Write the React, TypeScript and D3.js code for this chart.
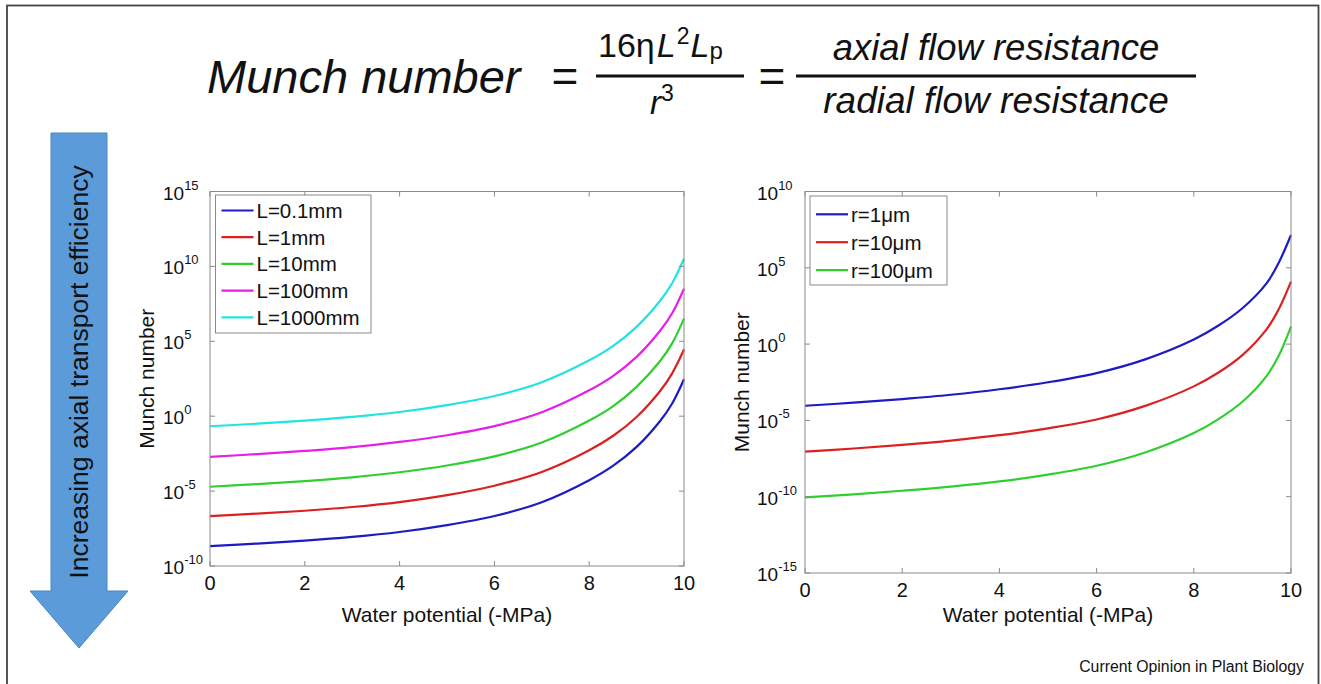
import React from 'react'
import * as d3 from 'd3'

// water potential (-MPa) sample points
const waterPotential = [0, 1, 2, 3, 4, 5, 6, 7, 8, 8.5, 9, 9.5, 9.75, 10]

// log10(Munch number)
const lengthLabels = ['L=0.1mm', 'L=1mm', 'L=10mm', 'L=100mm', 'L=1000mm']
const lengthSeries = [
  [-8.67, -8.5, -8.31, -8.06, -7.73, -7.27, -6.66, -5.74, -4.27, -3.32, -2.05, -0.3, 0.85, 2.47],
  [-6.67, -6.5, -6.31, -6.06, -5.73, -5.27, -4.64, -3.72, -2.27, -1.32, -0.05, 1.7, 2.86, 4.45],
  [-4.71, -4.53, -4.33, -4.08, -3.74, -3.29, -2.68, -1.76, -0.29, 0.66, 1.96, 3.7, 4.86, 6.51],
  [-2.71, -2.53, -2.32, -2.07, -1.72, -1.27, -0.66, 0.27, 1.73, 2.68, 3.96, 5.72, 6.87, 8.51],
  [-0.67, -0.5, -0.3, -0.05, 0.28, 0.74, 1.35, 2.27, 3.73, 4.68, 5.96, 7.72, 8.88, 10.51],
]

// log10(Munch number)
const radiusLabels = ['r=1\u03bcm', 'r=10\u03bcm', 'r=100\u03bcm']
const radiusSeries = [
  [-4.04, -3.84, -3.6, -3.32, -2.96, -2.5, -1.9, -1.0, 0.3, 1.2, 2.35, 4.0, 5.35, 7.15],
  [-7.05, -6.84, -6.6, -6.32, -5.97, -5.52, -4.94, -4.05, -2.77, -1.88, -0.72, 0.98, 2.3, 4.09],
  [-10.04, -9.85, -9.61, -9.34, -9.0, -8.55, -7.97, -7.1, -5.83, -4.93, -3.78, -2.08, -0.75, 1.14],
]

const xTicks = [0, 2, 4, 6, 8, 10]
const leftExpTicks = [15, 10, 5, 0, -5, -10]
const rightExpTicks = [10, 5, 0, -5, -10, -15]

const lengthColors = ['#1c1cc4', '#dc1f1f', '#2fcf2f', '#e61fe6', '#22e2e2']
const radiusColors = ['#1c1cc4', '#dc1f1f', '#2fcf2f']

const FONT = 'Liberation Sans, Arial, Helvetica, sans-serif'
const AXIS = '#8a8a8a'

function Panel({ left, right, top, bottom, exps, series, labels, colors, labelX, legend }) {
  const x = d3.scaleLinear().domain([0, 10]).range([left, right])
  const y = d3.scaleLog()
    .domain([Math.pow(10, exps[exps.length - 1]), Math.pow(10, exps[0])])
    .range([bottom, top])

  const line = d3.line<number>()
    .x((_, i) => x(waterPotential[i]))
    .y(v => y(Math.pow(10, v)))
    .curve(d3.curveCatmullRom.alpha(0.5))

  const tl = 5
  return (
    <g fontFamily={FONT}>
      {series.map((s, i) => (
        <path key={i} d={line(s)} fill="none" stroke={colors[i]} strokeWidth={2.2} />
      ))}
      <rect x={left} y={top} width={right - left} height={bottom - top}
        fill="none" stroke={AXIS} strokeWidth={1} />
      {xTicks.map(t => (
        <g key={t}>
          <line x1={x(t)} x2={x(t)} y1={bottom} y2={bottom - tl} stroke={AXIS} />
          <line x1={x(t)} x2={x(t)} y1={top} y2={top + tl} stroke={AXIS} />
          <text x={x(t)} y={bottom + 23.5} textAnchor="middle" fontSize={20} fill="#111">{t}</text>
        </g>
      ))}
      {exps.map(e => {
        const yy = y(Math.pow(10, e))
        return (
          <g key={e}>
            <line x1={left} x2={left + tl} y1={yy} y2={yy} stroke={AXIS} />
            <line x1={right} x2={right - tl} y1={yy} y2={yy} stroke={AXIS} />
            <text x={labelX} y={yy + 8} fontSize={19} fill="#111">
              10<tspan dy={-10} fontSize={13}>{e}</tspan>
            </text>
          </g>
        )
      })}
      <text transform={`translate(${left - 56},${(top + bottom) / 2}) rotate(-90)`}
        textAnchor="middle" fontSize={21} fill="#111">Munch number</text>
      <text x={(left + right) / 2} y={622} textAnchor="middle" fontSize={21} fill="#111">
        Water potential (-MPa)
      </text>
      <rect x={legend.x} y={legend.y} width={legend.w} height={legend.h}
        fill="#fff" stroke={AXIS} strokeWidth={1} />
      {labels.map((lab, i) => {
        const ly = legend.y + legend.first + i * legend.step
        return (
          <g key={lab}>
            <line x1={legend.x + 6} x2={legend.x + 38} y1={ly} y2={ly} stroke={colors[i]} strokeWidth={2.2} />
            <text x={legend.x + 41} y={ly + 7.5} fontSize={20.5} fill="#111">{lab}</text>
          </g>
        )
      })}
    </g>
  )
}

export default function App() {
  return (
    <div style={{ position: 'absolute', left: 0, top: 0 }}>
      <svg width={1321} height={684} style={{ display: 'block', background: '#fff' }}>
        <rect x={7} y={5.5} width={1311.5} height={700} fill="none" stroke="#444" strokeWidth={1.8} />

        {/* formula */}
        <g fontFamily={FONT} fill="#111">
          <text x={207} y={93} fontSize={47} fontStyle="italic">Munch number</text>
          <text x={565} y={92} fontSize={46} textAnchor="middle">=</text>
          <text x={598} y={57} fontSize={34}>
            16η<tspan fontStyle="italic" dx={2}>L</tspan>
            <tspan fontSize={23} dy={-13} dx={1}>2</tspan>
            <tspan fontStyle="italic" dy={13} dx={1}>L</tspan>
            <tspan fontSize={24} dy={2}>p</tspan>
          </text>
          <line x1={596} x2={744} y1={76} y2={76} stroke="#111" strokeWidth={3} />
          <text x={650} y={114} fontSize={33}>
            <tspan fontStyle="italic">r</tspan>
            <tspan fontSize={23} dy={-13}>3</tspan>
          </text>
          <text x={772} y={92} fontSize={46} textAnchor="middle">=</text>
          <line x1={796} x2={1196} y1={76} y2={76} stroke="#111" strokeWidth={3} />
          <text x={996} y={60} fontSize={36.5} fontStyle="italic" textAnchor="middle">axial flow resistance</text>
          <text x={996} y={113} fontSize={37} fontStyle="italic" textAnchor="middle">radial flow resistance</text>
        </g>

        {/* arrow */}
        <path d="M51,133 L107,133 L107,591 L128,591 L79,648 L30,591 L51,591 Z"
          fill="#5b9bd9" stroke="#4a86c6" strokeWidth={1} />
        <text transform="translate(88,372) rotate(-90)" textAnchor="middle" fontSize={26.5}
          fontFamily={FONT} fill="#111">Increasing axial transport efficiency</text>

        <Panel left={210} right={684} top={191.5} bottom={566} exps={leftExpTicks}
          series={lengthSeries} labels={lengthLabels} colors={lengthColors} labelX={163}
          legend={{ x: 215.5, y: 195, w: 155.5, h: 138, first: 15.5, step: 26.7 }} />
        <Panel left={805} right={1291} top={191.5} bottom={573} exps={rightExpTicks}
          series={radiusSeries} labels={radiusLabels} colors={radiusColors} labelX={757}
          legend={{ x: 810, y: 196, w: 137, h: 89, first: 18.3, step: 27.9 }} />

        <text x={1304} y={672} textAnchor="end" fontSize={15.8} fontFamily={FONT} fill="#111">
          Current Opinion in Plant Biology
        </text>
      </svg>
    </div>
  )
}
